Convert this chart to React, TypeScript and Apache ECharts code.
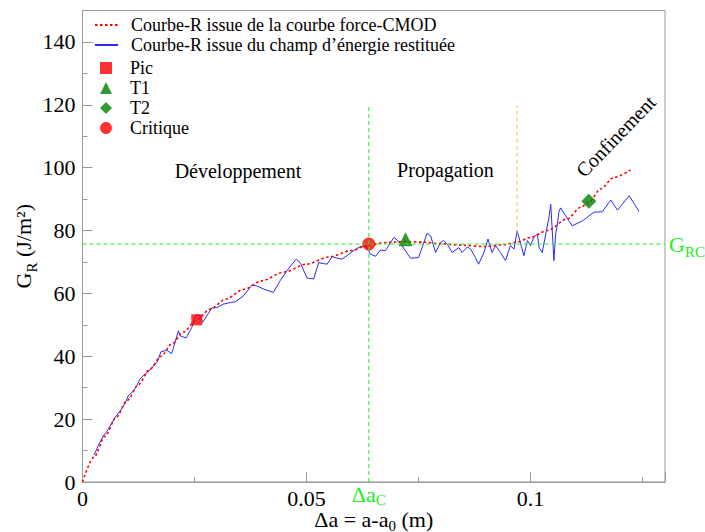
import React, { useEffect, useRef } from "react";
import * as echarts from "echarts";

// ---------- data ----------
const redCurve: [number, number][] = [
  [0, 0], [0.0026, 8], [0.005, 14.5], [0.0075, 20.5], [0.01, 26], [0.0125, 31],
  [0.015, 35.8], [0.0175, 40], [0.02, 44], [0.0225, 47.7], [0.0255, 51.6],
  [0.0285, 55], [0.032, 58.2], [0.036, 61.3], [0.04, 64], [0.045, 66.8],
  [0.05, 69.3], [0.055, 71.6], [0.06, 73.6], [0.0639, 75.5], [0.068, 76.2],
  [0.072, 76.5], [0.076, 76.3], [0.08, 75.8], [0.085, 75.3], [0.0896, 74.9],
  [0.094, 75.5], [0.097, 76.3], [0.1, 77.8], [0.1037, 80], [0.1082, 83.7],
  [0.1112, 87.4], [0.113, 89], [0.1156, 93.2], [0.1186, 96.9], [0.1223, 99.3],
];

const blueCurve: [number, number][] = [
  [0.0026, 8.6], [0.0035, 11.5], [0.0046, 14.6], [0.0054, 16], [0.0064, 18.4],
  [0.0073, 20.6], [0.0084, 22.6], [0.0095, 25], [0.0102, 27.4], [0.0114, 29],
  [0.0121, 30.6], [0.0128, 32.7], [0.014, 34.4], [0.0151, 35.7], [0.016, 37.2],
  [0.0167, 38.2], [0.0175, 41.4], [0.0188, 41.9], [0.0199, 40.8], [0.0214, 48.1],
  [0.0218, 46.5], [0.0231, 45.8], [0.0244, 49.2], [0.0254, 53.2], [0.0262, 53],
  [0.0268, 50.8], [0.0289, 55.4], [0.03, 55.5], [0.0315, 56.6], [0.033, 57.1],
  [0.0341, 57.3], [0.0359, 59.2], [0.0378, 62.6], [0.0389, 62.4], [0.0404, 61.4],
  [0.0426, 60.3], [0.0441, 64], [0.0456, 67.2], [0.0477, 70.9], [0.0486, 69.8],
  [0.0501, 64.9], [0.0516, 64.6], [0.0527, 69.8], [0.0537, 69.5], [0.0546, 69.3],
  [0.0557, 71.7], [0.0568, 71.2], [0.0579, 70.9], [0.059, 72], [0.0605, 73.6],
  [0.062, 74.9], [0.0635, 74.8], [0.0642, 72.5], [0.0654, 71.8], [0.0665, 73.8],
  [0.0676, 73.6], [0.0695, 77.8], [0.0702, 77], [0.0713, 75.2], [0.0732, 71.2],
  [0.075, 71.4], [0.0769, 79.1], [0.0777, 78.3], [0.0788, 73], [0.0799, 76.2],
  [0.0806, 76.8], [0.0814, 75.7], [0.0825, 73], [0.084, 74.6], [0.0847, 73],
  [0.0859, 74.8], [0.0866, 74.1], [0.0877, 71.4], [0.0884, 69.3], [0.0896, 73],
  [0.0905, 77.3], [0.0914, 73], [0.0922, 75.2], [0.0933, 73], [0.0944, 70.4],
  [0.0955, 75.2], [0.0963, 74.1], [0.097, 79.9], [0.0978, 75.7], [0.0985, 72],
  [0.0993, 76.8], [0.1, 75.2], [0.1007, 77.8], [0.1015, 78.9], [0.1019, 74.6],
  [0.1026, 73], [0.1034, 78.9], [0.1041, 84.2], [0.1045, 88.4], [0.1048, 81],
  [0.1052, 70.4], [0.1056, 78.9], [0.106, 82.1], [0.1063, 85.8], [0.1067, 87.2],
  [0.1093, 81.5], [0.1116, 83.1], [0.1141, 85.8], [0.116, 86], [0.1179, 89.7],
  [0.1194, 86.5], [0.122, 91.1], [0.1242, 86.1],
];

const picPoint: [number, number][] = [[0.0255, 51.6]];
const t1Point: [number, number][] = [[0.0721, 77.2]];
const t2Point: [number, number][] = [[0.113, 89.3]];
const critPoint: [number, number][] = [[0.0639, 75.7]];

const deltaAc = 0.0639;
const gRc = 75.7;
const confinementStart = 0.097;
const refLineTop = 120;
const confinementLineBottom = 79;

const xMin = 0, xMax = 0.13, xMajor = 0.05, xMinor = 0.025;
const yMin = 0, yMax = 150, yMajor = 20, yMinor = 10;

const lineNames = [
  "Courbe-R issue de la courbe force-CMOD",
  "Courbe-R issue du champ d’énergie restituée",
];
const pointNames = ["Pic", "T1", "T2", "Critique"];

const zoneLabels = [
  { name: "Développement", x: 0.0347, y: 99, rotate: 0 },
  { name: "Propagation", x: 0.081, y: 99.4, rotate: 0 },
  { name: "Confinement", x: 0.119, y: 110, rotate: 46 },
];

// ---------- styles ----------
const FONT = "'Liberation Serif', 'Times New Roman', Times, serif";
const AXIS_GRAY = "#9a9a9a";
const RED = "#ff0000";
const BLUE = "#2a2aff";
const DARK_GREEN = "#008000";
const LIGHT_GREEN = "#22ee22";
const ORANGE = "#ffb84d";

const subRich = (size: number, color: string, subSize: number, drop: number, lh?: number) => ({
  a: { fontFamily: FONT, fontSize: size, color, verticalAlign: "top", lineHeight: lh ?? size + 2 },
  s: { fontFamily: FONT, fontSize: subSize, color, verticalAlign: "top", lineHeight: subSize - 2, padding: [drop, 0, 0, 0] },
});

export default function App() {
  const ref = useRef<HTMLDivElement>(null);

  useEffect(() => {
    if (!ref.current) return;
    const chart = echarts.init(ref.current, null, { renderer: "svg" });

    const legendText = (pad: number) => ({
      fontFamily: FONT,
      fontSize: 18,
      lineHeight: 20,
      color: "#000",
      padding: [0, 0, 0, pad],
    });

    const refLine = (name: string, data: [number, number][], color: string, extra: any = {}) => ({
      name,
      type: "line",
      data,
      symbol: "none",
      showSymbol: false,
      silent: true,
      lineStyle: { color, width: 1, type: [4, 3] },
      itemStyle: { color },
      z: 5,
      ...extra,
    });

    const option: any = {
      animation: false,
      backgroundColor: "#fff",
      textStyle: { fontFamily: FONT },
      grid: {
        left: 82.5,
        right: 40,
        top: 10.5,
        bottom: 50,
        show: true,
        borderColor: AXIS_GRAY,
        borderWidth: 1,
        containLabel: false,
        outerBoundsMode: "none",
      },
      legend: [
        {
          orient: "vertical",
          left: 94,
          top: 15,
          padding: 0,
          itemWidth: 23,
          itemHeight: 12,
          itemGap: 0,
          selectedMode: false,
          itemStyle: { opacity: 0 },
          data: lineNames,
          textStyle: legendText(8),
        },
        {
          orient: "vertical",
          left: 100,
          top: 58,
          padding: 0,
          itemWidth: 12,
          itemHeight: 12,
          itemGap: 0,
          selectedMode: false,
          data: pointNames,
          textStyle: legendText(13),
        },
      ],
      xAxis: [
        {
          type: "value",
          min: xMin,
          max: xMax,
          interval: xMajor,
          position: "bottom",
          axisLine: { show: true, onZero: false, lineStyle: { color: AXIS_GRAY, width: 1 } },
          axisTick: { show: true, inside: true, length: 10, lineStyle: { color: AXIS_GRAY } },
          axisLabel: {
            margin: 5,
            fontFamily: FONT,
            fontSize: 22,
            color: "#000",
            formatter: (v: number) => (Math.abs(v - xMax) < 1e-9 ? "" : String(+v.toFixed(3))),
          },
          splitLine: { show: false },
          name: "{a|Δa = a-a}{s|0}{a| (m)}",
          nameLocation: "middle",
          nameGap: 26,
          nameMoveOverlap: false,
          nameTextStyle: { rich: subRich(22, "#000", 15, 10, 20) },
        },
        {
          type: "value",
          min: xMin,
          max: xMax,
          interval: xMinor,
          position: "bottom",
          offset: 0,
          axisLine: { show: false, onZero: false },
          axisTick: { show: true, inside: true, length: 5, lineStyle: { color: AXIS_GRAY } },
          axisLabel: { show: false },
          splitLine: { show: false },
        },
      ],
      yAxis: [
        {
          type: "value",
          min: yMin,
          max: yMax,
          interval: yMajor,
          position: "left",
          axisLine: { show: true, onZero: false, lineStyle: { color: AXIS_GRAY, width: 1 } },
          axisTick: { show: true, inside: true, length: 10, lineStyle: { color: AXIS_GRAY } },
          axisLabel: {
            margin: 7,
            fontFamily: FONT,
            fontSize: 22,
            color: "#000",
            formatter: (v: number) => (v === yMax ? "" : String(v)),
          },
          splitLine: { show: false },
          name: "{a|G}{s|R}{a| (J/m²)}",
          nameLocation: "middle",
          nameRotate: 90,
          nameGap: 46,
          nameMoveOverlap: false,
          nameTextStyle: { rich: subRich(22, "#000", 15, 12) },
        },
        {
          type: "value",
          min: yMin,
          max: yMax,
          interval: yMinor,
          position: "left",
          offset: 0,
          axisLine: { show: false, onZero: false },
          axisTick: { show: true, inside: true, length: 5, lineStyle: { color: AXIS_GRAY } },
          axisLabel: { show: false },
          splitLine: { show: false },
        },
      ],
      series: [
        {
          name: lineNames[1],
          type: "line",
          data: blueCurve,
          showSymbol: false,
          symbol: "none",
          lineStyle: { color: BLUE, width: 1 },
          itemStyle: { color: BLUE },
          z: 2,
        },
        {
          name: lineNames[0],
          type: "line",
          data: redCurve,
          showSymbol: false,
          symbol: "none",
          smooth: 0.3,
          smoothMonotone: "x",
          lineStyle: { color: RED, width: 1.6, type: [2.5, 2.5] },
          itemStyle: { color: RED },
          z: 2,
        },
        refLine("refDeltaAc", [[deltaAc, yMin], [deltaAc, refLineTop]], LIGHT_GREEN, {
          markPoint: {
            silent: true,
            animation: false,
            data: [
              {
                coord: [deltaAc, yMin],
                symbol: "circle",
                symbolSize: 0,
                itemStyle: { color: "transparent" },
                label: {
                  show: true,
                  position: "bottom",
                  distance: 1,
                  formatter: "{a|Δa}{s|C}",
                  rich: subRich(22, LIGHT_GREEN, 15, 9, 20),
                },
              },
            ],
          },
        }),
        refLine("refGrc", [[xMin, gRc], [xMax, gRc]], LIGHT_GREEN, {
          endLabel: {
            show: true,
            distance: 4,
            formatter: "{a|G}{s|RC}",
            rich: subRich(22, LIGHT_GREEN, 15, 11, 22),
          },
        }),
        refLine("refConf", [[confinementStart, confinementLineBottom], [confinementStart, refLineTop]], ORANGE, {
          markPoint: {
            silent: true,
            animation: false,
            data: zoneLabels.map((z) => ({
              coord: [z.x, z.y],
              name: z.name,
              symbol: "circle",
              symbolSize: 0,
              itemStyle: { color: "transparent" },
              label: {
                show: true,
                position: "inside",
                formatter: z.name,
                rotate: z.rotate,
                fontFamily: FONT,
                fontSize: 20,
                color: "#000",
              },
            })),
          },
        }),
        {
          name: "Pic",
          type: "scatter",
          data: picPoint,
          symbol: "rect",
          symbolSize: 11,
          itemStyle: { color: RED },
          z: 4,
        },
        {
          name: "T1",
          type: "scatter",
          data: t1Point,
          symbol: "triangle",
          symbolSize: 14,
          itemStyle: { color: DARK_GREEN },
          z: 4,
        },
        {
          name: "T2",
          type: "scatter",
          data: t2Point,
          symbol: "diamond",
          symbolSize: 15,
          itemStyle: { color: DARK_GREEN },
          z: 4,
        },
        {
          name: "Critique",
          type: "scatter",
          data: critPoint,
          symbol: "circle",
          symbolSize: 13,
          itemStyle: { color: RED },
          z: 4,
        },
      ],
    };

    chart.setOption(option);
    return () => chart.dispose();
  }, []);

  return (
    <div
      ref={ref}
      style={{ position: "fixed", left: 0, top: 0, width: 705, height: 532, background: "#fff" }}
    />
  );
}
